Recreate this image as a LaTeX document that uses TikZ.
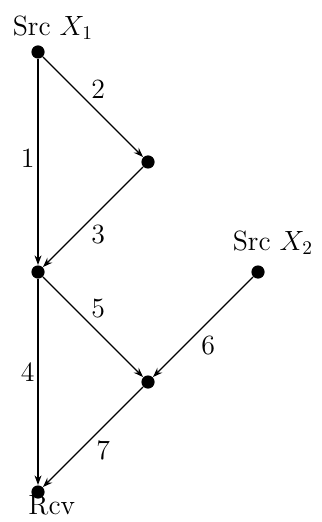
\documentclass[tikz,border=0pt]{standalone}
\usepackage{tikz}
\usetikzlibrary{arrows.meta,positioning}
\begin{document}
\begin{tikzpicture}[
    dot/.style={circle,fill=black,inner sep=0pt,minimum size=0.24cm},
    flow/.style={line width=0.6pt,-{Stealth[length=5pt,width=3.6pt]}},
    num/.style={font=\Large,inner sep=1.5pt}]
        % frame
        \useasboundingbox (-0.691,0.945) rectangle (5.145,-8.545);
        % Mark points
        \node[dot] (s1) at (0,0) {};
        \node[dot] (m1) at (2,-2) {};
        \node[dot] (j1) at (0,-4) {};
        \node[dot] (s2) at (4,-4) {};
        \node[dot] (m2) at (2,-6) {};
        \node[dot] (rcv) at (0,-8) {};
        % names
        \node[font=\Large] (s1name) at (0.27,0.44) {Src $X_1$};
        \node[font=\Large] (s2name) at (4.27,-3.47) {Src $X_2$};
        \node[font=\Large] (rcvname) at (0.25,-8.25) {Rcv};
        % links
        \draw[flow] (s1) -- node[num,left,pos=0.48] {1} (j1);
        \draw[flow] (s1) -- node[num,above right,pos=0.45] {2} (m1);
        \draw[flow] (m1) -- node[num,below right,pos=0.55] {3} (j1);
        \draw[flow] (j1) -- node[num,left,pos=0.45] {4} (rcv);
        \draw[flow] (j1) -- node[num,above right,pos=0.45] {5} (m2);
        \draw[flow] (s2) -- node[num,below right,pos=0.55] {6} (m2);
        \draw[flow] (m2) -- node[num,below right,pos=0.5] {7} (rcv);
      \end{tikzpicture}
\end{document}
